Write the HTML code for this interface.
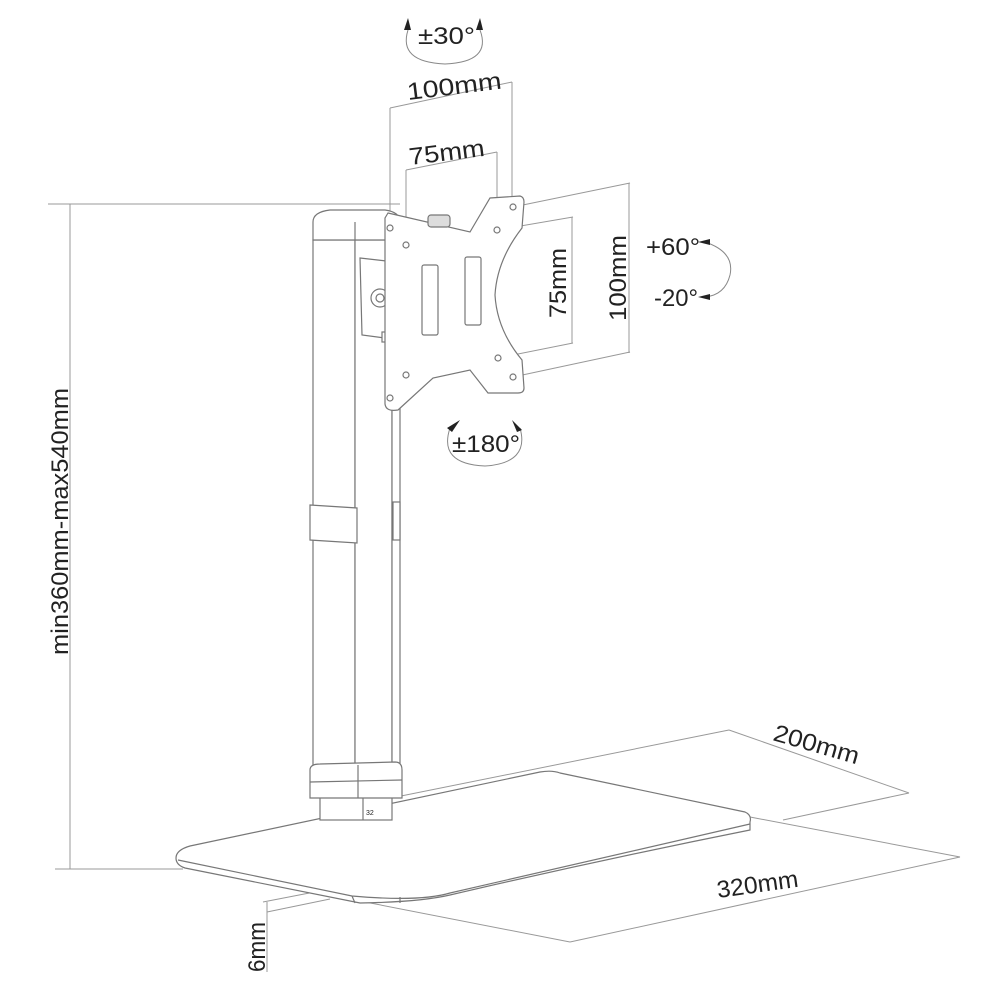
<!DOCTYPE html>
<html><head><meta charset="utf-8"><style>
html,body{margin:0;padding:0;background:#fff;}
svg{display:block;}
text{font-family:"Liberation Sans","DejaVu Sans",sans-serif;fill:#222;}
</style></head><body>
<svg width="1000" height="1000" viewBox="0 0 1000 1000" xmlns="http://www.w3.org/2000/svg">
<g fill="none" stroke="#999" stroke-width="1">
<line x1="48" y1="204" x2="400" y2="204"/>
<line x1="70" y1="204" x2="70" y2="869"/>
<line x1="55" y1="869" x2="183" y2="869"/>
<line x1="390" y1="108" x2="512" y2="82"/>
<line x1="390" y1="108" x2="390" y2="228"/>
<line x1="512" y1="82" x2="512" y2="205"/>
<line x1="406" y1="170" x2="497" y2="152"/>
<line x1="406" y1="170" x2="406" y2="245"/>
<line x1="497" y1="152" x2="497" y2="230"/>
<line x1="497" y1="230" x2="573" y2="217"/>
<line x1="498" y1="358" x2="573" y2="343"/>
<line x1="572" y1="217" x2="572" y2="343"/>
<line x1="513" y1="207" x2="630" y2="183"/>
<line x1="513" y1="377" x2="630" y2="352"/>
<line x1="629" y1="183" x2="629" y2="353"/>
<line x1="401" y1="796" x2="729" y2="730"/>
<line x1="729" y1="730" x2="909" y2="793"/>
<line x1="783" y1="820" x2="909" y2="793"/>
<line x1="750" y1="817" x2="960" y2="857"/>
<line x1="355" y1="900" x2="570" y2="942"/>
<line x1="570" y1="942" x2="960" y2="857"/>
<line x1="263" y1="902" x2="330" y2="889"/>
<line x1="267" y1="912" x2="330" y2="899"/>
<line x1="267" y1="902" x2="267" y2="972"/>
</g>
<g fill="#fff" stroke="#777" stroke-width="1.2">
<path d="M176,858 Q176,850 190,846 L540,772 Q552,770 560,773 L745,812 Q752,815 750,822 L750,830 Q600,860 450,895 Q420,902 360,903 L185,868 Q176,865 176,858 Z"/>
<path d="M178,860 L352,896 Q420,902 450,893 Q600,858 750,824" />
<line x1="352" y1="896" x2="355" y2="903"/>
<line x1="400" y1="897" x2="400" y2="903"/>
<rect x="320" y="796" width="72" height="24"/>
<line x1="363" y1="798" x2="363" y2="820"/>
<rect x="313" y="240" width="42" height="530"/>
<rect x="355" y="240" width="37" height="530"/>
<rect x="392" y="240" width="8" height="530"/>
<path d="M310,770 Q310,764 320,764 L395,762 Q402,762 402,770 L402,798 L310,798 Z"/>
<line x1="310" y1="782" x2="402" y2="780"/>
<line x1="358" y1="765" x2="358" y2="798"/>
<path d="M313,222 Q313,212 330,210 L385,210 Q400,212 400,222 L400,240 L313,240 Z"/>
<line x1="355" y1="222" x2="355" y2="240"/>
<path d="M310,505 L357,508 L357,543 L310,540 Z"/>
<rect x="393" y="502" width="7" height="38"/>
<path d="M360,258 L395,262 L400,340 L362,335 Z"/>
<circle cx="380" cy="298" r="9"/><circle cx="380" cy="298" r="4"/>
<rect x="382" y="332" width="14" height="10"/>
<path d="M388,213 L470,232 L490,198 L520,196 Q524,197 524,202 L522,228 Q497,260 495,295 Q497,330 522,360 L524,388 Q524,393 518,393 L488,393 L470,370 L433,378 L398,410 Q386,412 385,404 L385,218 Z"/>
<rect x="422" y="265" width="16" height="70" rx="2"/>
<rect x="465" y="257" width="16" height="68" rx="2"/>
<rect x="428" y="215" width="22" height="12" rx="3" fill="#ddd"/>
<circle cx="513" cy="207" r="3"/><circle cx="497" cy="230" r="3"/>
<circle cx="390" cy="228" r="3"/><circle cx="406" cy="245" r="3"/>
<circle cx="498" cy="358" r="3"/><circle cx="513" cy="377" r="3"/>
<circle cx="406" cy="375" r="3"/><circle cx="390" cy="398" r="3"/>
</g>
<g fill="none" stroke="#888" stroke-width="1">
<path d="M408,30 Q398,62 445,64 Q492,62 480,30"/>
<path d="M450,428 Q438,464 485,466 Q530,463 520,428"/>
<path d="M705,242 Q735,252 730,275 Q725,295 705,297"/>
</g>
<g fill="#222">
<polygon points="404,30 408,18 411,30"/><polygon points="476,30 480,18 483,30"/>
<polygon points="447,428 460,420 452,432"/><polygon points="512,420 522,430 517,432"/>
<polygon points="698,242 710,239 710,245"/><polygon points="698,297 710,294 710,300"/>
</g>
<g font-size="24">
<text x="418" y="44" textLength="57" lengthAdjust="spacingAndGlyphs">±30°</text>
<text x="408" y="100" transform="rotate(-7 408 100)" textLength="95" lengthAdjust="spacingAndGlyphs">100mm</text>
<text x="410" y="165" transform="rotate(-7 410 165)" textLength="76" lengthAdjust="spacingAndGlyphs">75mm</text>
<text x="566" y="318" transform="rotate(-90 566 318)" textLength="70" lengthAdjust="spacingAndGlyphs">75mm</text>
<text x="626" y="321" transform="rotate(-90 626 321)" textLength="86" lengthAdjust="spacingAndGlyphs">100mm</text>
<text x="646" y="255" textLength="54" lengthAdjust="spacingAndGlyphs">+60°</text>
<text x="654" y="306" textLength="44" lengthAdjust="spacingAndGlyphs">-20°</text>
<text x="452" y="452" textLength="68" lengthAdjust="spacingAndGlyphs">±180°</text>
<text x="68" y="655" transform="rotate(-90 68 655)" textLength="267" lengthAdjust="spacingAndGlyphs">min360mm-max540mm</text>
<text x="772" y="740" transform="rotate(16 772 740)" textLength="88" lengthAdjust="spacingAndGlyphs">200mm</text>
<text x="718" y="898" transform="rotate(-8 718 898)" textLength="82" lengthAdjust="spacingAndGlyphs">320mm</text>
<text x="265" y="972" transform="rotate(-90 265 972)" textLength="50" lengthAdjust="spacingAndGlyphs">6mm</text>
</g>
<text x="366" y="815" font-size="7">32</text>
</svg>
</body></html>
